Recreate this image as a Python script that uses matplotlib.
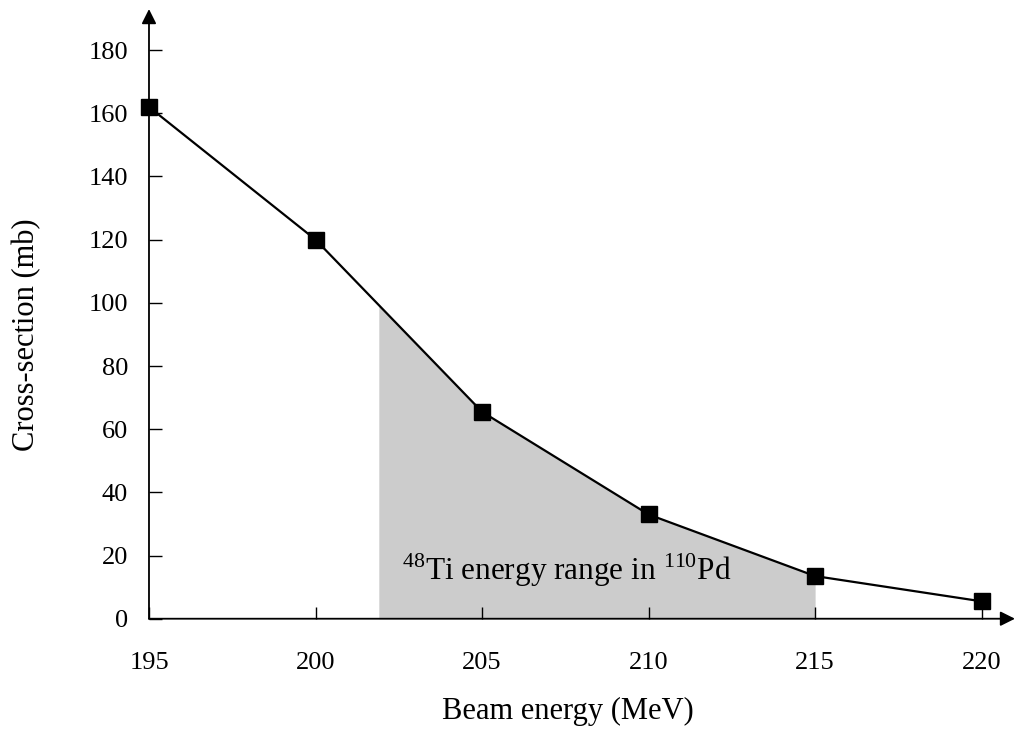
import matplotlib
matplotlib.use("Agg")
import matplotlib.pyplot as plt
import numpy as np

energy = [195, 200, 205, 210, 215, 220]
cross_section = [162, 120, 65.5, 33, 13.5, 5.5]
range_start = 201.9
range_end = 215.0
x_ticks = [195, 200, 205, 210, 215, 220]
y_ticks = [0, 20, 40, 60, 80, 100, 120, 140, 160, 180]

plt.rcParams['font.family'] = 'Liberation Serif'
plt.rcParams['mathtext.fontset'] = 'custom'
plt.rcParams['mathtext.rm'] = 'Liberation Serif'

fig = plt.figure(figsize=(10.17, 7.31), dpi=100)
ax = fig.add_axes([0.1465, 0.1536, 0.8515, 0.834])

# shaded energy range under the curve
xs = np.linspace(range_start, range_end, 200)
ys = np.interp(xs, energy, cross_section)
ax.fill_between(xs, 0, ys, color='#cccccc', lw=0, zorder=1)

ax.plot(energy, cross_section, color='black', lw=1.6, marker='s',
        markersize=11, zorder=3, clip_on=False)

ax.text(202.6, 12.3, r'$^{48}$Ti energy range in $^{110}$Pd', fontsize=22.5, zorder=2)

ax.set_xlim(195, 221)
ax.set_ylim(0, 193)
ax.set_xticks(x_ticks)
ax.set_yticks(y_ticks)
ax.tick_params(axis='both', direction='in', length=9, width=1, labelsize=19)
ax.tick_params(axis='x', pad=24)
ax.tick_params(axis='y', pad=15)

for s in ax.spines.values():
    s.set_visible(False)
# axes with arrow heads
ax.annotate('', xy=(1, 0), xytext=(0, 0), xycoords='axes fraction',
            arrowprops=dict(arrowstyle='-|>', color='black', lw=1.3,
                            mutation_scale=22, shrinkA=0, shrinkB=0))
ax.annotate('', xy=(0, 1), xytext=(0, 0), xycoords='axes fraction',
            arrowprops=dict(arrowstyle='-|>', color='black', lw=1.3,
                            mutation_scale=22, shrinkA=0, shrinkB=0))

ax.set_xlabel('Beam energy (MeV)', fontsize=22)
ax.set_ylabel('Cross-section (mb)', fontsize=22)
ax.xaxis.set_label_coords(0.484, -0.128)
ax.yaxis.set_label_coords(-0.124, 0.466)

fig.savefig('out.png', dpi=100)
